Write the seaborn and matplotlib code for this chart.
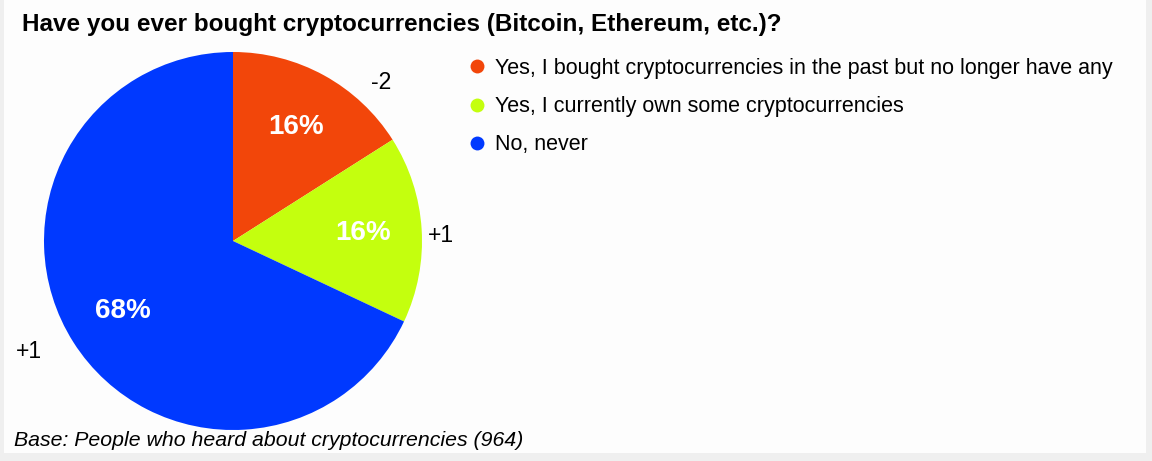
import matplotlib
matplotlib.use("Agg")
import matplotlib.pyplot as plt
from matplotlib.lines import Line2D
from matplotlib.patches import Rectangle
import numpy as np
import seaborn as sns

categories = ["Yes, I bought cryptocurrencies in the past but no longer have any",
              "Yes, I currently own some cryptocurrencies",
              "No, never"]
values = [16, 16, 68]
changes = ["-2", "+1", "+1"]
colors = ["#F2460A", "#C4FF0E", "#0039FF"]
title = "Have you ever bought cryptocurrencies (Bitcoin, Ethereum, etc.)?"
footnote = "Base: People who heard about cryptocurrencies (964)"

sns.set_theme(style="white")
plt.rcParams['font.family'] = ['Liberation Sans', 'DejaVu Sans']
plt.rcParams['text.color'] = 'black'

W, H = 1152, 461
fig = plt.figure(figsize=(W / 100, H / 100), dpi=100, facecolor="#efefef")
fig.patches.append(Rectangle((4 / W, 8 / H), (W - 10) / W, (H - 8) / H,
                             transform=fig.transFigure, facecolor="#fdfdfd",
                             edgecolor="none", zorder=-10))

cx, cy, r = 233, 241, 189
ax = fig.add_axes([(cx - r) / W, (H - cy - r) / H, 2 * r / W, 2 * r / H])
ax.set_zorder(5)
ax.patch.set_alpha(0)

wedges, texts, autotexts = ax.pie(values, colors=colors, startangle=90,
                                  counterclock=False, radius=1,
                                  autopct=lambda p: f"{p:.0f}%", pctdistance=0.69,
                                  wedgeprops=dict(linewidth=0),
                                  textprops=dict(color="white", fontsize=20, fontweight="bold"))
ax.set_xlim(-1, 1)
ax.set_ylim(-1, 1)
ax.set_aspect("equal")
ax.axis("off")
for t in autotexts:
    t.set_va("center")
    t.set_ha("center")
    t.set_color("white")

# change labels (angle in degrees, radius in pie units)
change_pos = [(46.9, 1.15), (1.4, 1.10), (-151.6, 1.23)]
for lab, (ang, rad) in zip(changes, change_pos):
    a = np.deg2rad(ang)
    ax.text(rad * np.cos(a), rad * np.sin(a), lab, fontsize=16.5, color="black",
            ha="center", va="center", clip_on=False)

handles = [Line2D([0], [0], marker="o", linestyle="none", markersize=10,
                  markerfacecolor=c, markeredgecolor="none") for c in colors]
leg = fig.legend(handles, categories, loc="upper left", bbox_to_anchor=(464 / W, 1 - 58 / H),
                 frameon=False, fontsize=15.5, labelspacing=0.8, handletextpad=0.25,
                 handlelength=1.2, borderaxespad=0, borderpad=0)
for t in leg.get_texts():
    t.set_color("black")

fig.text(22 / W, 1 - 25 / H, title, fontsize=17.5, fontweight="bold", ha="left", va="center",
         color="black")
fig.text(14 / W, 1 - 440 / H, footnote, fontsize=15.3, fontstyle="italic", ha="left", va="center",
         color="black")

fig.savefig("out.png", dpi=100, facecolor=fig.get_facecolor())
